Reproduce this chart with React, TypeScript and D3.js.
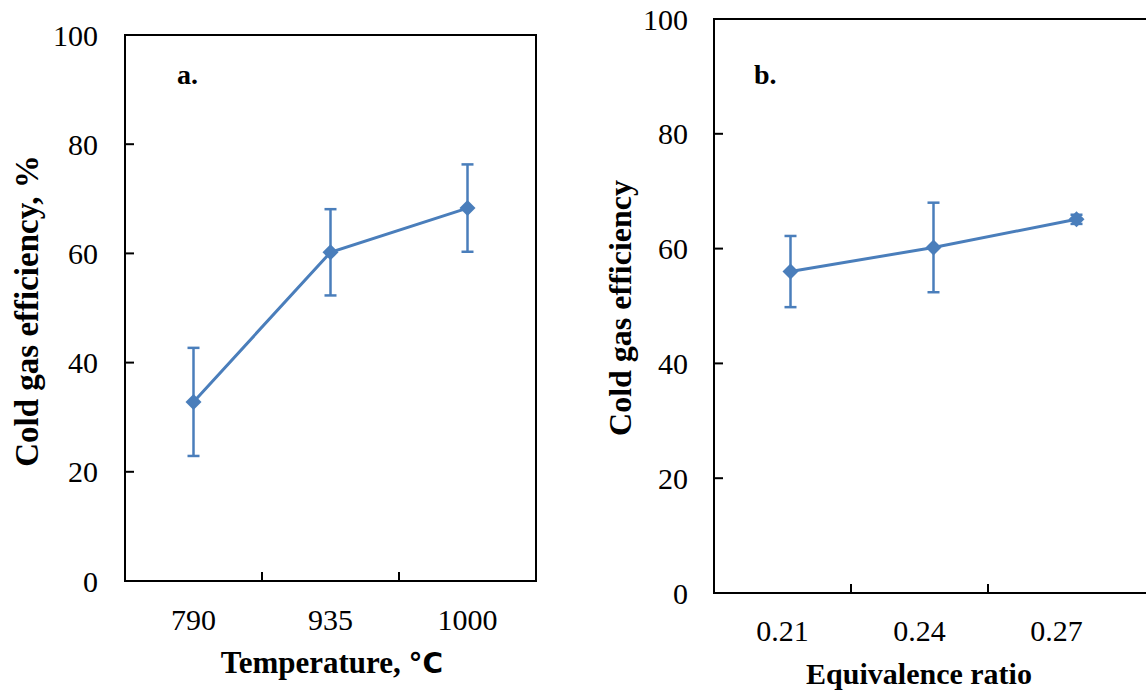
import React from "react";
import * as d3 from "d3";

const tempCategories = ["790", "935", "1000"];
const tempValues = [32.8, 60.2, 68.3];
const tempErrors = [9.9, 7.9, 8.0];

const erCategories = ["0.21", "0.24", "0.27"];
const erValues = [56.0, 60.2, 65.1];
const erErrors = [6.2, 7.8, 0.8];

const yTicks = [0, 20, 40, 60, 80, 100];

const BLUE = "#4A7EBB";
const SERIF = "Liberation Serif, DejaVu Serif, serif";

type PanelProps = {
  cats: string[];
  vals: number[];
  errs: number[];
  left: number;
  right: number;
  top: number;
  bottom: number;
  pointRange: [number, number];
  drawRight: boolean;
  label: string;
  labelPos: [number, number];
  yTitle: string;
  yTitlePos: [number, number];
  xTitle: React.ReactNode;
  xTitlePos: [number, number];
  tickLabelY: number;
  yLabelX: number;
  boxRightExtent: number;
  tickFont: number;
  titleFont: number;
  xTitleFont: number;
};

function Panel(p: PanelProps) {
  const y = d3.scaleLinear().domain([0, 100]).range([p.bottom, p.top]);
  const xBand = d3.scaleBand<string>().domain(p.cats).range([p.left, p.right]).padding(0);
  const xPt = d3.scaleBand<string>().domain(p.cats).range(p.pointRange).padding(0);
  const px = (c: string) => (xPt(c) as number) + xPt.bandwidth() / 2;
  const line = d3
    .line<number>()
    .x((_, i) => px(p.cats[i]))
    .y((v) => y(v));
  const dm = 8;
  const diamondPath = `M0,${-dm}L${dm},0L0,${dm}L${-dm},0Z`;
  const boundaries = p.cats.slice(1).map((c) => xBand(c) as number);
  const cap = 6;
  const serifStyle = { fontFamily: SERIF };
  return (
    <g>
      <line x1={p.left} x2={p.boxRightExtent} y1={p.top} y2={p.top} stroke="#000" strokeWidth={2} />
      <line x1={p.left} x2={p.boxRightExtent} y1={p.bottom} y2={p.bottom} stroke="#000" strokeWidth={2} />
      <line x1={p.left} x2={p.left} y1={p.top - 1} y2={p.bottom + 1} stroke="#000" strokeWidth={2} />
      {p.drawRight && (
        <line x1={p.right} x2={p.right} y1={p.top - 1} y2={p.bottom + 1} stroke="#000" strokeWidth={2} />
      )}
      {yTicks.map((t) => (
        <g key={t}>
          {t > 0 && t < 100 && (
            <line x1={p.left} x2={p.left + 9} y1={y(t)} y2={y(t)} stroke="#000" strokeWidth={2} />
          )}
          <text x={p.yLabelX} y={y(t)} dy="0.35em" textAnchor="end" style={serifStyle} fontSize={p.tickFont} fill="#000">
            {t}
          </text>
        </g>
      ))}
      {boundaries.map((b, i) => (
        <line key={i} x1={b} x2={b} y1={p.bottom} y2={p.bottom - 9} stroke="#000" strokeWidth={2} />
      ))}
      {p.cats.map((c) => (
        <text
          key={c}
          x={(xBand(c) as number) + xBand.bandwidth() / 2}
          y={p.tickLabelY}
          textAnchor="middle"
          style={serifStyle}
          fontSize={p.tickFont}
          fill="#000"
        >
          {c}
        </text>
      ))}
      <path d={line(p.vals) || ""} fill="none" stroke={BLUE} strokeWidth={3} />
      {p.vals.map((v, i) => {
        const cx = px(p.cats[i]);
        const e = p.errs[i];
        return (
          <g key={i}>
            <line x1={cx} x2={cx} y1={y(v - e)} y2={y(v + e)} stroke={BLUE} strokeWidth={2.5} />
            <line x1={cx - cap} x2={cx + cap} y1={y(v + e)} y2={y(v + e)} stroke={BLUE} strokeWidth={2.5} />
            <line x1={cx - cap} x2={cx + cap} y1={y(v - e)} y2={y(v - e)} stroke={BLUE} strokeWidth={2.5} />
            <path d={diamondPath} transform={`translate(${cx},${y(v)})`} fill={BLUE} />
          </g>
        );
      })}
      <text x={p.labelPos[0]} y={p.labelPos[1]} style={serifStyle} fontWeight="bold" fontSize={28} fill="#000">
        {p.label}
      </text>
      <text
        transform={`translate(${p.yTitlePos[0]},${p.yTitlePos[1]}) rotate(-90)`}
        textAnchor="middle"
        style={serifStyle}
        fontWeight="bold"
        fontSize={p.titleFont}
        fill="#000"
      >
        {p.yTitle}
      </text>
      <text
        x={p.xTitlePos[0]}
        y={p.xTitlePos[1]}
        textAnchor="middle"
        style={serifStyle}
        fontWeight="bold"
        fontSize={p.xTitleFont}
        fill="#000"
      >
        {p.xTitle}
      </text>
    </g>
  );
}

export default function App() {
  return (
    <svg
      width={1146}
      height={693}
      viewBox="0 0 1146 693"
      style={{ position: "absolute", left: 0, top: 0, background: "#fff" }}
    >
      <rect x={0} y={0} width={1146} height={693} fill="#fff" />
      <Panel
        cats={tempCategories}
        vals={tempValues}
        errs={tempErrors}
        left={125}
        right={536}
        top={35}
        bottom={581}
        pointRange={[125, 536]}
        drawRight={true}
        label="a."
        labelPos={[177, 84]}
        yTitle="Cold gas efficiency, %"
        yTitlePos={[38, 311]}
        xTitle={
          <>
            Temperature,{" "}
            <tspan style={{ fontFamily: "DejaVu Sans, sans-serif" }} fontSize={28}>
              °C
            </tspan>
          </>
        }
        xTitlePos={[332, 673]}
        tickLabelY={630}
        yLabelX={98}
        boxRightExtent={536}
        tickFont={30}
        titleFont={33}
        xTitleFont={31}
      />
      <Panel
        cats={erCategories}
        vals={erValues}
        errs={erErrors}
        left={714}
        right={1125}
        top={19}
        bottom={593}
        pointRange={[719, 1148]}
        drawRight={false}
        label="b."
        labelPos={[754, 84]}
        yTitle="Cold gas efficiency"
        yTitlePos={[631, 308]}
        xTitle="Equivalence ratio"
        xTitlePos={[919, 684]}
        tickLabelY={641}
        yLabelX={688}
        boxRightExtent={1150}
        tickFont={30}
        titleFont={32}
        xTitleFont={30}
      />
    </svg>
  );
}
